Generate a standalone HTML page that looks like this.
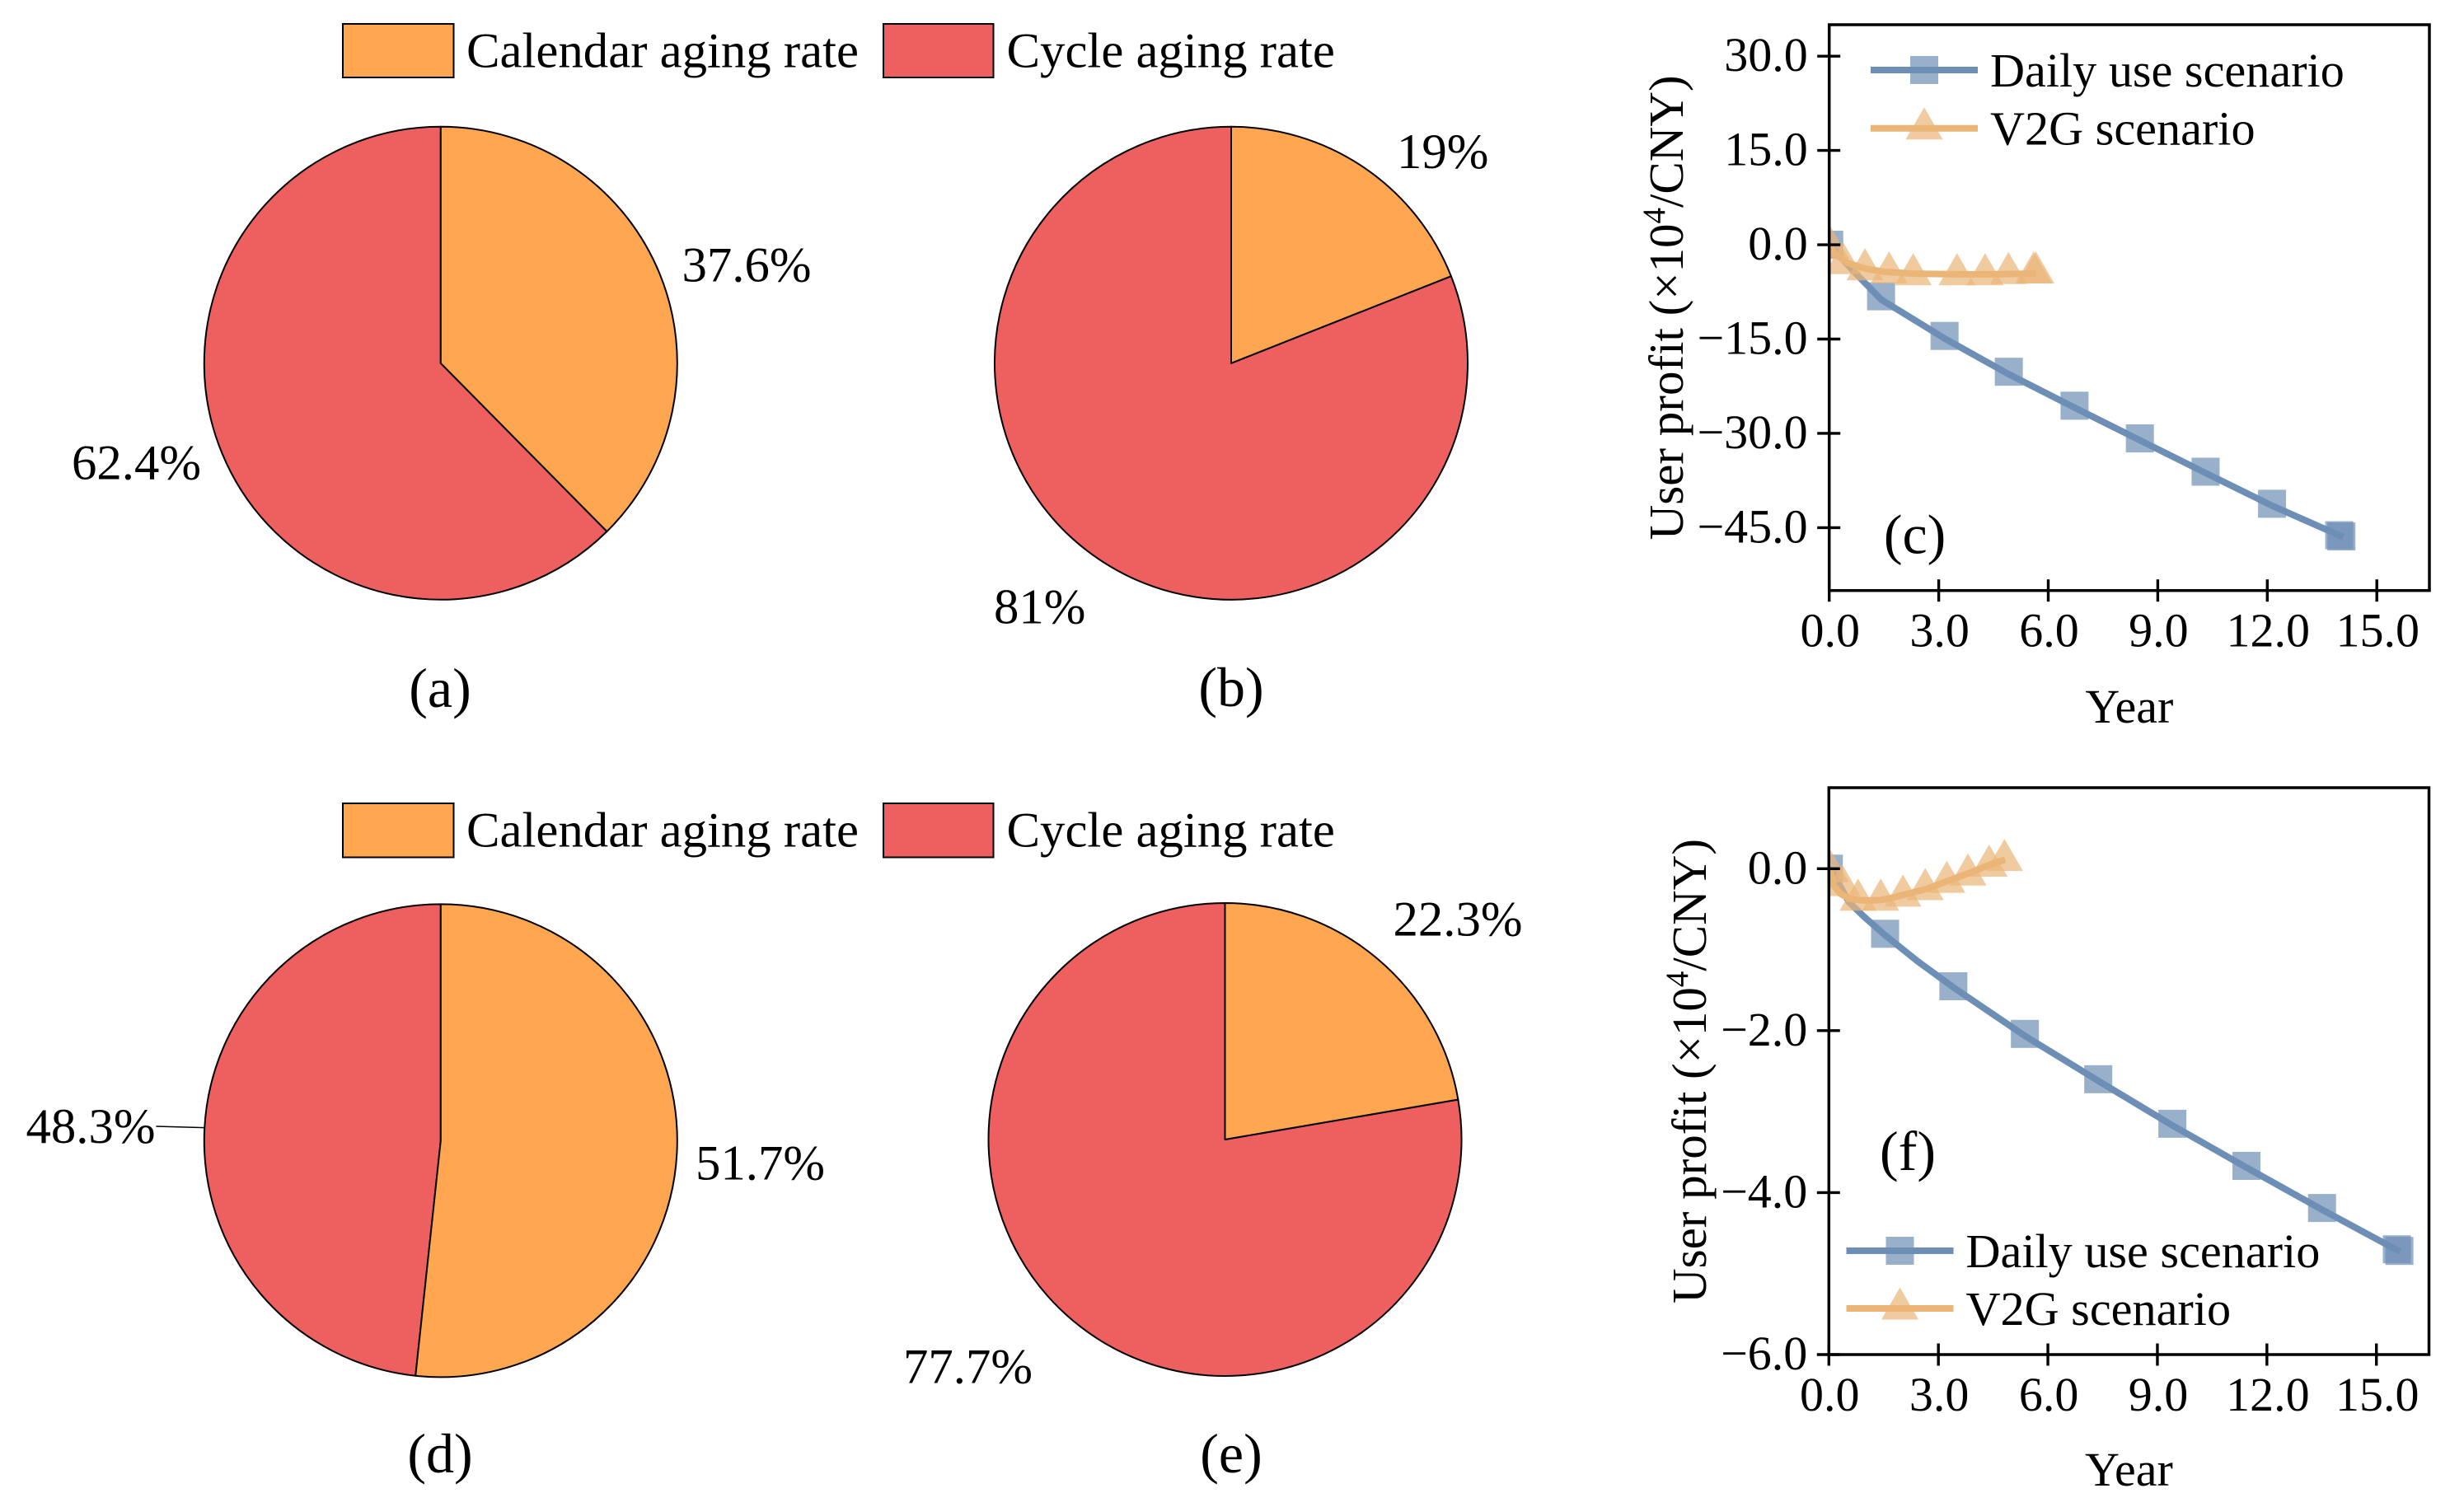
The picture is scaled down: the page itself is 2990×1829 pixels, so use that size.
<!DOCTYPE html>
<html lang="en">
<head>
<meta charset="utf-8">
<title>Aging rate shares and user profit</title>
<style>
html,body{margin:0;padding:0;background:#fff;}
svg{display:block;}
text{font-family:"Liberation Serif",serif;fill:#000;}
</style>
</head>
<body>
<svg id="figure" xmlns="http://www.w3.org/2000/svg" width="2990" height="1829" viewBox="0 0 2990 1829">
  <rect x="0" y="0" width="2990" height="1829" fill="#ffffff"/>
  <defs>
    <clipPath id="clip-c"><rect x="2219.7" y="30" width="728.3" height="686.7"/></clipPath>
    <clipPath id="clip-f"><rect x="2219.3" y="956" width="728.2" height="688"/></clipPath>
  </defs>

  <g>
    <rect x="416" y="29" width="134.5" height="65" fill="#FFA750" stroke="#000" stroke-width="2"/>
    <text x="566" y="81.5" font-size="60.8">Calendar aging rate</text>
    <rect x="1072" y="29" width="133.5" height="65" fill="#EE6060" stroke="#000" stroke-width="2"/>
    <text x="1221.5" y="81.5" font-size="60.8">Cycle aging rate</text>
  </g>
  <g>
    <rect x="416" y="975" width="134.5" height="65.5" fill="#FFA750" stroke="#000" stroke-width="2"/>
    <text x="566" y="1027.5" font-size="60.8">Calendar aging rate</text>
    <rect x="1072" y="975" width="133.5" height="65.5" fill="#EE6060" stroke="#000" stroke-width="2"/>
    <text x="1221.5" y="1027.5" font-size="60.8">Cycle aging rate</text>
  </g>

  <text x="534" y="858" font-size="68" text-anchor="middle">(a)</text>
  <text x="1494" y="857" font-size="68" text-anchor="middle">(b)</text>
  <text x="534" y="1787" font-size="68" text-anchor="middle">(d)</text>
  <text x="1494" y="1787" font-size="68" text-anchor="middle">(e)</text>
  <line x1="189.4" y1="1367" x2="248" y2="1368.6" stroke="#000" stroke-width="1.5"/>

  <g id="pies"></g>
  <g id="chart-c"></g>
  <g id="chart-f"></g>
</svg>

<script>
// Pie shares (percent)
const calendarShares = [37.6, 19, 51.7, 22.3];
const cycleShares = [62.4, 81, 48.3, 77.7];

// Shared x ticks
const xTickValues = [0, 3, 6, 9, 12, 15];
const xTickLabels = ['0.0', '3.0', '6.0', '9.0', '12.0', '15.0'];

// Chart (c)
const cYTickValues = [30, 15, 0, -15, -30, -45];
const cYTickLabels = ['30.0', '15.0', '0.0', '\u221215.0', '\u221230.0', '\u221245.0'];
const cDailyMarkerYears = [0, 1.42, 3.16, 4.92, 6.72, 8.51, 10.31, 12.13, 13.97, 14.03];
const cDailyMarkerProfit = [0, -8.2, -14.5, -20.2, -25.6, -30.8, -36.1, -41.2, -46.2, -46.4];
const cDailyLineYears = [0, 0.3, 0.7, 1.42, 3.16, 4.92, 6.72, 8.51, 10.31, 12.13, 14.08];
const cDailyLineProfit = [0, -1.9, -4.4, -8.7, -14.9, -20.6, -25.9, -31.1, -36.3, -41.5, -46.5];
const cV2gMarkerYears = [0.04, 0.38, 0.98, 1.64, 2.3, 3.5, 4.27, 4.91, 5.6, 5.66];
const cV2gMarkerProfit = [0.3, -2.1, -3.1, -3.6, -3.9, -3.9, -3.9, -3.7, -3.6, -3.6];
const cV2gLineYears = [0, 0.15, 0.5, 1.0, 1.5, 2.3, 3.5, 4.5, 5.66];
const cV2gLineProfit = [0, -1.4, -2.9, -3.8, -4.3, -4.6, -4.7, -4.7, -4.6];

// Chart (f)
const fYTickValues = [0, -2, -4, -6];
const fYTickLabels = ['0.0', '\u22122.0', '\u22124.0', '\u22126.0'];
const fDailyMarkerYears = [0, 1.54, 3.41, 5.37, 7.38, 9.41, 11.44, 13.51, 15.56, 15.63];
const fDailyMarkerProfit = [0, -0.804, -1.452, -2.04, -2.6, -3.15, -3.67, -4.19, -4.7, -4.72];
const fDailyLineYears = [0, 0.2, 0.55, 0.98, 1.54, 2.43, 3.41, 5.37, 7.38, 9.41, 11.44, 13.51, 15.65];
const fDailyLineProfit = [0, -0.13, -0.414, -0.6, -0.821, -1.143, -1.465, -2.065, -2.62, -3.17, -3.69, -4.21, -4.73];
const fV2gMarkerYears = [0.05, 0.36, 0.8, 1.42, 2.03, 2.64, 3.23, 3.81, 4.39, 4.81];
const fV2gMarkerProfit = [0.03, -0.14, -0.32, -0.32, -0.27, -0.19, -0.1, -0.01, 0.1, 0.17];
const fV2gLineYears = [0.02, 0.06, 0.135, 0.32, 0.55, 0.81, 1.11, 1.41, 1.71, 2.05, 2.65, 3.25, 3.82, 4.38, 4.83];
const fV2gLineProfit = [0, -0.06, -0.21, -0.31, -0.37, -0.387, -0.394, -0.387, -0.363, -0.322, -0.254, -0.153, -0.058, 0.044, 0.112];

const SVGNS = 'http://www.w3.org/2000/svg';
const BLUE = '#6E8FB5';
const ORANGE = '#EBB577';

function mk(tag, attrs, parent, text) {
  const el = document.createElementNS(SVGNS, tag);
  for (const k in attrs) el.setAttribute(k, attrs[k]);
  if (text !== undefined) el.textContent = text;
  parent.appendChild(el);
  return el;
}

function wedgePath(cx, cy, r, startFrac, frac) {
  const a0 = startFrac * 2 * Math.PI;
  const a1 = (startFrac + frac) * 2 * Math.PI;
  const x0 = cx + r * Math.sin(a0), y0 = cy - r * Math.cos(a0);
  const x1 = cx + r * Math.sin(a1), y1 = cy - r * Math.cos(a1);
  const large = frac > 0.5 ? 1 : 0;
  return 'M' + cx + ' ' + cy + 'L' + x0 + ' ' + y0 + 'A' + r + ' ' + r + ' 0 ' + large + ' 1 ' + x1 + ' ' + y1 + 'Z';
}

function drawPie(index, cx, cy, calX, calY, cycX, cycY) {
  const root = document.getElementById('pies');
  const calendar = calendarShares[index];
  const cycle = cycleShares[index];
  const total = calendar + cycle;
  const r = 287;
  const g = mk('g', {}, root);
  
  
  const red = mk('path', {d: wedgePath(cx, cy, r, calendar / total, cycle / total), fill: '#EE6060', stroke: '#000', 'stroke-width': 2, 'stroke-linejoin': 'round'}, g);
  
  
  const orange = mk('path', {d: wedgePath(cx, cy, r, 0, calendar / total), fill: '#FFA750', stroke: '#000', 'stroke-width': 2, 'stroke-linejoin': 'round'}, g);
  
  
  const t1 = mk('text', {x: calX, y: calY, 'font-size': 60.8}, g, calendar + '%');
  
  
  const t2 = mk('text', {x: cycX, y: cycY, 'font-size': 60.8}, g, cycle + '%');
  
  
}

drawPie(0, 534.8, 440.8, 827.5, 341.6, 87, 581.5);
drawPie(1, 1494, 440.8, 1695, 203.8, 1206, 756.6);
drawPie(2, 534.8, 1384.4, 844, 1431.7, 31.5, 1387);
drawPie(3, 1486.5, 1383, 1690.5, 1135.3, 1096, 1678.3);

function polyline(parent, xs, ys, sx, sy, color) {
  const pts = xs.map(function (x, i) { return sx(x) + ',' + sy(ys[i]); }).join(' ');
  return mk('polyline', {points: pts, fill: 'none', stroke: color, 'stroke-width': 8, 'stroke-linejoin': 'round'}, parent);
}

function squareMark(parent, px, py) {
  return mk('rect', {x: px - 17, y: py - 17, width: 34, height: 34, fill: BLUE, 'fill-opacity': 0.7}, parent);
}

function triangleMark(parent, px, py) {
  const pts = px + ',' + (py - 19.5) + ' ' + (px + 22.5) + ',' + (py + 19.5) + ' ' + (px - 22.5) + ',' + (py + 19.5);
  return mk('polygon', {points: pts, fill: ORANGE, 'fill-opacity': 0.7}, parent);
}

function drawChart(o) {
  const root = document.getElementById(o.id);
  const sx = function (v) { return o.left + v * (o.right - o.left) / o.xMax; };
  const sy = function (v) { return o.top + (o.yMax - v) * (o.bottom - o.top) / (o.yMax - o.yMin); };

  const plot = mk('g', {'clip-path': 'url(#' + o.clip + ')'}, root);
  
  

  o.dailyMarkerX.forEach(function (x, i) {
    const m = squareMark(plot, sx(x), sy(o.dailyMarkerY[i]));
    
    
  });
  const dl = polyline(plot, o.dailyLineX, o.dailyLineY, sx, sy, BLUE);
  
  

  o.v2gMarkerX.forEach(function (x, i) {
    const m = triangleMark(plot, sx(x), sy(o.v2gMarkerY[i]));
    
    
  });
  const vl = polyline(plot, o.v2gLineX, o.v2gLineY, sx, sy, ORANGE);
  
  

  const frame = mk('rect', {x: o.left, y: o.top, width: o.right - o.left, height: o.bottom - o.top, fill: 'none', stroke: '#000', 'stroke-width': 3.5}, root);
  
  

  xTickValues.forEach(function (v, i) {
    const t = mk('line', {x1: sx(v), x2: sx(v), y1: o.bottom - 13.5, y2: o.bottom + 13.5, stroke: '#000', 'stroke-width': 3.4}, root);
    
    
    const l = mk('text', {x: sx(v) + 1, y: o.bottom + 68, 'font-size': 58, 'text-anchor': 'middle'}, root, xTickLabels[i]);
    
    
  });

  o.yTicks.forEach(function (v, i) {
    const t = mk('line', {x1: o.left - 14.5, x2: o.left + 13.5, y1: sy(v), y2: sy(v), stroke: '#000', 'stroke-width': 3.4}, root);
    
    
    const l = mk('text', {x: o.left - 26, y: sy(v) + 18, 'font-size': 58, 'text-anchor': 'end'}, root, o.yLabels[i]);
    
    
  });

  const xt = mk('text', {x: (o.left + o.right) / 2, y: o.xTitleY, 'font-size': 58, 'text-anchor': 'middle'}, root, 'Year');
  
  

  const cy = (o.top + o.bottom) / 2;
  const yt = mk('text', {transform: 'translate(' + o.yTitleX + ' ' + cy + ') rotate(-90)', 'font-size': 59, 'text-anchor': 'middle'}, root);
  
  
  mk('tspan', {}, yt, 'User profit (\u00D710');
  mk('tspan', {dy: -22, 'font-size': 39}, yt, '4');
  mk('tspan', {dy: 22}, yt, '/CNY)');

  const lg = mk('g', {}, root);
  
  
  const ll1 = mk('line', {x1: o.legLeft, x2: o.legLeft + 130, y1: o.legY1, y2: o.legY1, stroke: BLUE, 'stroke-width': 8}, lg);
  
  
  const lm1 = squareMark(lg, o.legLeft + 65, o.legY1);
  
  
  const lt1 = mk('text', {x: o.legLeft + 145, y: o.legY1 + 20, 'font-size': 58.2}, lg, 'Daily use scenario');
  
  
  const lm2 = triangleMark(lg, o.legLeft + 65, o.legY2 - 6);
  
  
  const ll2 = mk('line', {x1: o.legLeft, x2: o.legLeft + 130, y1: o.legY2, y2: o.legY2, stroke: ORANGE, 'stroke-width': 8}, lg);
  
  
  const lt2 = mk('text', {x: o.legLeft + 145, y: o.legY2 + 20, 'font-size': 58.2}, lg, 'V2G scenario');
  
  

  const pl = mk('text', {x: o.panelX, y: o.panelY, 'font-size': 68, 'text-anchor': 'middle'}, root, o.panel);
  
  
}

drawChart({
  id: 'chart-c', clip: 'clip-c', panel: '(c)',
  left: 2219.7, right: 2948, top: 30, bottom: 716.7,
  xMax: 16.44, yMax: 35, yMin: -55,
  yTicks: cYTickValues, yLabels: cYTickLabels,
  dailyMarkerX: cDailyMarkerYears, dailyMarkerY: cDailyMarkerProfit,
  dailyLineX: cDailyLineYears, dailyLineY: cDailyLineProfit,
  v2gMarkerX: cV2gMarkerYears, v2gMarkerY: cV2gMarkerProfit,
  v2gLineX: cV2gLineYears, v2gLineY: cV2gLineProfit,
  xTitleY: 877, yTitleX: 2042,
  legLeft: 2270, legY1: 85, legY2: 155.7,
  panelX: 2323.6, panelY: 671.6
});

drawChart({
  id: 'chart-f', clip: 'clip-f', panel: '(f)',
  left: 2219.3, right: 2947.5, top: 956, bottom: 1644,
  xMax: 16.44, yMax: 1, yMin: -6,
  yTicks: fYTickValues, yLabels: fYTickLabels,
  dailyMarkerX: fDailyMarkerYears, dailyMarkerY: fDailyMarkerProfit,
  dailyLineX: fDailyLineYears, dailyLineY: fDailyLineProfit,
  v2gMarkerX: fV2gMarkerYears, v2gMarkerY: fV2gMarkerProfit,
  v2gLineX: fV2gLineYears, v2gLineY: fV2gLineProfit,
  xTitleY: 1803, yTitleX: 2070,
  legLeft: 2240.5, legY1: 1518, legY2: 1588,
  panelX: 2315, panelY: 1420
});
</script>
</body>
</html>
